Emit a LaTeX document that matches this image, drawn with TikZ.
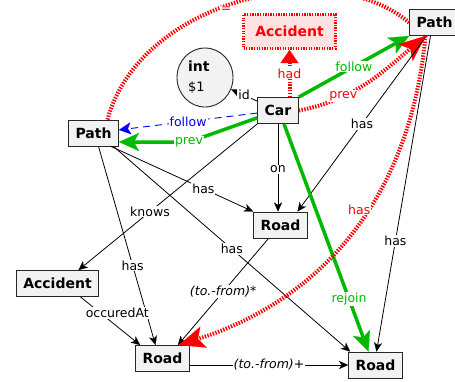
\documentclass[tikz,border=0pt]{standalone}
\usepackage{fontspec}
\setmainfont{DejaVu Sans}
\usetikzlibrary{arrows.meta,calc,shapes.geometric}
\definecolor{gcreate}{RGB}{0,185,0}
\definecolor{gerase}{RGB}{255,0,0}
\definecolor{gblue}{RGB}{0,0,255}
\definecolor{nodefill}{RGB}{242,242,242}
\definecolor{erasefill}{RGB}{255,226,226}
\begin{document}
\begin{tikzpicture}[x=1pt,y=-1pt,
  box/.style={rectangle,draw=black!85,line width=0.9pt,fill=nodefill,inner xsep=7pt,inner ysep=0pt,minimum height=26pt,font=\fontsize{14}{16}\selectfont\bfseries},
  erasebox/.style={rectangle,draw=gerase,fill=erasefill,line width=3pt,dash pattern=on 1.3pt off 1.3pt,minimum width=92pt,minimum height=34pt,text=gerase,font=\fontsize{14}{16}\selectfont\bfseries},
  lbl/.style={font=\fontsize{12.5}{15}\selectfont,fill=white,inner sep=1pt},
  lblg/.style={lbl,text=gcreate},
  lblr/.style={lbl,text=gerase},
  lblb/.style={lbl,text=gblue},
  lbli/.style={lbl,font=\fontsize{12.5}{15}\selectfont\itshape},
  plain/.style={draw=black,line width=0.8pt,-{Stealth[length=9pt,width=8pt,inset=2.5pt,line width=0.1pt]}},
  create/.style={draw=gcreate,line width=3.5pt,-{Stealth[length=20pt,width=18pt,inset=5pt,line width=0.1pt]}},
  erase/.style={draw=gerase,line width=4pt,dash pattern=on 1.4pt off 1.4pt},
  erasearrow/.style={erase,-{Stealth[length=26pt,width=22pt,inset=6pt,line width=0.1pt]}},
  nac/.style={draw=gblue,line width=0.9pt,dash pattern=on 7pt off 5pt,-{Stealth[length=12pt,width=12pt,inset=3pt,line width=0.1pt]}}
]
\clip (0,0) rectangle (455,381);
\fill[white] (0,0) rectangle (455,381);

% nodes
\node[box] (PL) at (93.5,133) {Path};
\node[box] (PR) at (434.5,22.5) {Path};
\node[box] (CAR) at (278,110.5) {Car};
\node[erasebox] (ACC) at (289.5,31.5) {Accident};
\node[ellipse,draw=black!85,line width=0.9pt,fill=nodefill,minimum width=56pt,minimum height=59pt,inner sep=0pt,align=left,text width=34pt,font=\fontsize{13}{20}\selectfont] (INT) at (205,77.5) {{\fontsize{14}{20}\selectfont\bfseries int}\\\$1};
\node[box] (RM) at (280.5,225) {Road};
\node[box] (AL) at (57.5,283.5) {Accident};
\node[box] (RBL) at (162.5,358.5) {Road};
\node[box] (RBR) at (375.5,365) {Road};
\coordinate (b1) at (189,142);

% edges
\draw[erase] ($(PL.north)+(14,0)$) .. controls (140,0) and (330,-45) .. node[lblr,pos=.46,yshift=-4pt]{=} (PR.west);
\draw[plain] (CAR) -- node[lbl]{id} (INT);
\draw[nac] (CAR) -- node[lblb]{follow} (PL);
\draw[create] (CAR) -- (b1) node[lblg]{prev} -- (PL.east |- b1);
\draw[create] (CAR.north east) -- node[lblg]{follow} (PR.south west);
\draw[erasearrow] (CAR.east) .. controls (355,100) and (385,70) .. node[lblr,pos=.3]{prev} ($(PR.south)+(-9,0)$);
\draw[erase,-{Triangle[length=13pt,width=18pt,line width=0.1pt]}] (ACC.south |- CAR.north) -- node[lblr]{had} (ACC.south);
\draw[plain] ($(PR.south)+(-8,0)$) -- node[lbl]{has} ($(RM.north)+(17,0)$);
\draw[plain] (CAR.south) -- node[lbl,pos=.52]{on} (CAR.south |- RM.north);
\draw[plain] ($(PR.south)+(-4,0)$) -- node[lbl,pos=.65]{has} ($(RBR.north)+(1,0)$);
\draw[plain] ($(PL.south)+(17.5,0)$) -- node[lbl,pos=.65]{has} (RM.north west);
\draw[plain] ($(PL.south)+(20,0)$) -- node[lbl,pos=.5]{has} ($(RBR.north west)+(2,0)$);
\draw[plain] ($(PL.south)+(5,0)$) -- node[lbl,pos=.6]{has} ($(RBL.north)+(-7,0)$);
\draw[plain] (CAR.south west) -- node[lbl,pos=.6]{knows} ($(AL.north)+(21,0)$);
\draw[plain] ($(AL.south)+(23,0)$) -- node[lbl,pos=.5,xshift=7pt,yshift=8pt]{occuredAt} ($(RBL.north west)+(5,0)$);
\draw[plain] ($(RM.south)+(-12,0)$) -- node[lbli]{(to.-from)*} ($(RBL.north east)+(-12,0)$);
\draw[plain] (RBL.east |- RBR) -- node[lbli]{(to.-from)+} (RBR.west);
\draw[create] ($(CAR.south)+(6,0)$) -- node[lblg,pos=.77]{rejoin} ($(RBR.north)+(-7,0)$);
\draw[erasearrow] ($(PR.south)+(-9,0)$) .. controls (410,200) and (320,300) .. node[lblr,pos=.42,xshift=-9pt]{has} ($(RBL.north east)+(-11,0)$);
\end{tikzpicture}
\end{document}
